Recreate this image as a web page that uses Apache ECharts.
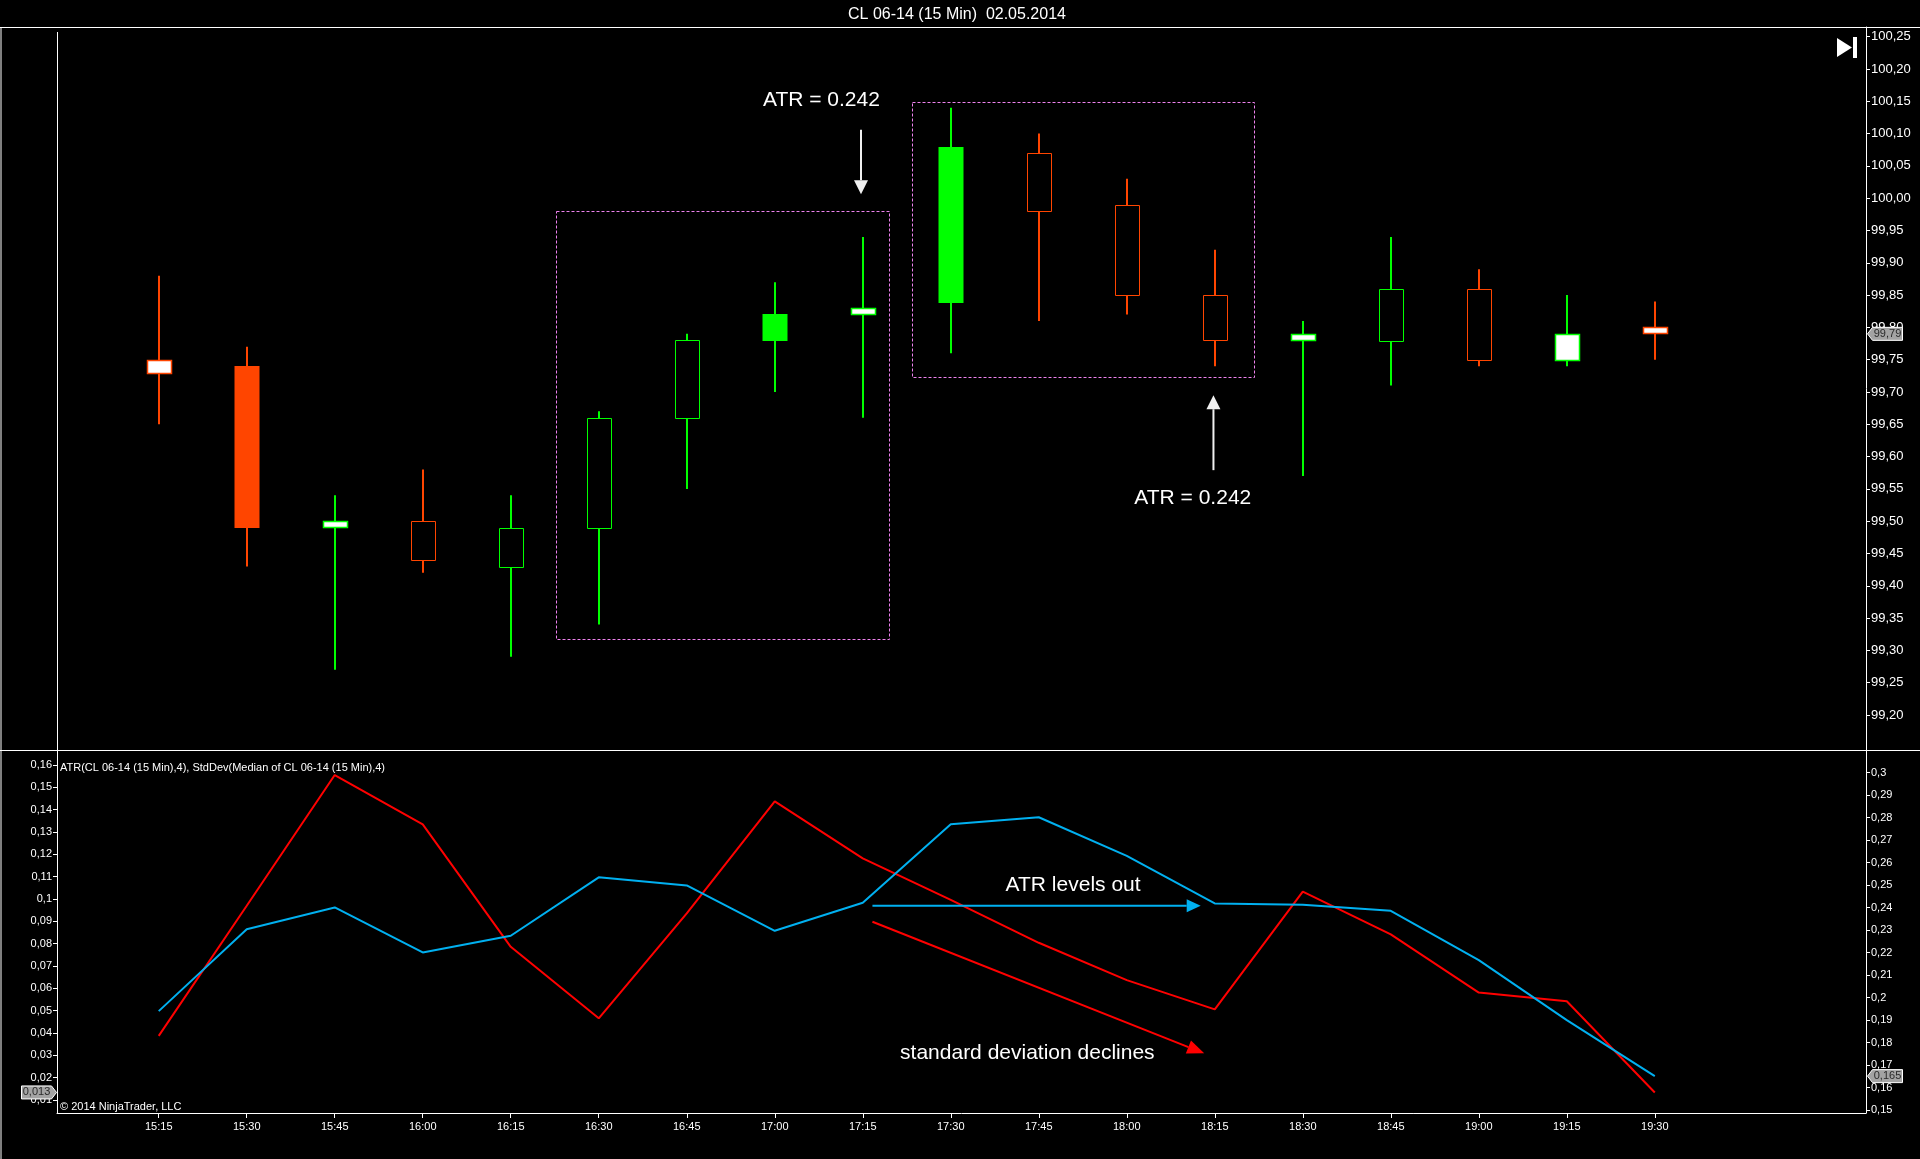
<!DOCTYPE html>
<html>
<head>
<meta charset="utf-8">
<title>CL 06-14 (15 Min) 02.05.2014</title>
<script src="https://cdn.jsdelivr.net/npm/echarts@6/dist/echarts.min.js"></script>
<style>
  html, body { margin: 0; padding: 0; background: #000; }
  #chart { width: 1920px; height: 1159px; }
</style>
</head>
<body>
<div id="chart"></div>
<script>
// 15 min bars, CL 06-14
const times = ['15:15', '15:30', '15:45', '16:00', '16:15', '16:30', '16:45', '17:00', '17:15',
  '17:30', '17:45', '18:00', '18:15', '18:30', '18:45', '19:00', '19:15', '19:30'];
const open  = [99.75, 99.74, 99.49, 99.50, 99.43, 99.49, 99.66, 99.78, 99.82,
  99.84, 100.07, 99.99, 99.85, 99.78, 99.78, 99.86, 99.75, 99.80];
const close = [99.73, 99.49, 99.50, 99.44, 99.49, 99.66, 99.78, 99.82, 99.83,
  100.08, 99.98, 99.85, 99.78, 99.79, 99.86, 99.75, 99.79, 99.79];
const low   = [99.65, 99.43, 99.27, 99.42, 99.29, 99.34, 99.55, 99.70, 99.66,
  99.76, 99.81, 99.82, 99.74, 99.57, 99.71, 99.74, 99.74, 99.75];
const high  = [99.88, 99.77, 99.54, 99.58, 99.54, 99.67, 99.79, 99.87, 99.94,
  100.14, 100.10, 100.03, 99.92, 99.81, 99.94, 99.89, 99.85, 99.84];
// how each body is painted on the chart
const bodyType = ['white', 'solid', 'white', 'hollow', 'hollow', 'hollow', 'hollow', 'solid', 'white',
  'solid', 'hollow', 'hollow', 'hollow', 'white', 'hollow', 'hollow', 'white', 'white'];

// indicator panel
const stdDev = [0.0387, 0.097, 0.1555, 0.1334, 0.0786, 0.0466, 0.0936, 0.1437, 0.1182,
  0.0996, 0.0804, 0.0637, 0.0506, 0.1033, 0.0842, 0.0581, 0.0542, 0.0134];
const atr = [0.194, 0.2304, 0.2401, 0.2201, 0.2275, 0.2535, 0.2499, 0.2297, 0.2422,
  0.2771, 0.2802, 0.263, 0.2419, 0.2413, 0.2386, 0.2167, 0.19, 0.1651];

// axis ticks
const priceTicks = [99.20, 99.25, 99.30, 99.35, 99.40, 99.45, 99.50, 99.55, 99.60, 99.65, 99.70,
  99.75, 99.80, 99.85, 99.90, 99.95, 100.00, 100.05, 100.10, 100.15, 100.20, 100.25];
const stdTicks = [0.01, 0.02, 0.03, 0.04, 0.05, 0.06, 0.07, 0.08, 0.09, 0.10, 0.11, 0.12, 0.13, 0.14, 0.15, 0.16];
const atrTicks = [0.15, 0.16, 0.17, 0.18, 0.19, 0.20, 0.21, 0.22, 0.23, 0.24, 0.25, 0.26, 0.27, 0.28, 0.29, 0.30];
const barIndex = [0, 1, 2, 3, 4, 5, 6, 7, 8, 9, 10, 11, 12, 13, 14, 15, 16, 17];

const FONT = 'Arial, "Liberation Sans", sans-serif';
const GREEN = '#00ff00';
const ORANGE = '#ff4500';
const ATR_BLUE = '#00b0f0';
const STD_RED = '#ff0000';
const BOX = '#ee82ee';

const X_MIN = -1.156, X_MAX = 19.40;

const chart = echarts.init(document.getElementById('chart'));

const comma2 = v => v.toFixed(2).replace('.', ',');
const commaTrim = v => String(parseFloat(v.toFixed(2))).replace('.', ',');

function renderCandle(params, api) {
  const i = api.value(0);
  const o = api.value(1), c = api.value(2);
  const hi = api.coord([i, api.value(4)]);
  const lo = api.coord([i, api.value(3)]);
  const top = api.coord([i, Math.max(o, c)]);
  const bot = api.coord([i, Math.min(o, c)]);
  const color = c >= o ? GREEN : ORANGE;
  const kind = bodyType[params.dataIndex];
  const x = Math.round(top[0]);
  const yTop = Math.round(top[1]) + 0.5;
  const h = Math.max(Math.round(bot[1] - top[1]), 1);
  const body = kind === 'solid'
    ? { x: x - 12.5, y: yTop - 0.5, width: 25, height: h + 1 }
    : { x: x - 12 + 0.5, y: yTop, width: 24, height: h };
  return {
    type: 'group',
    children: [
      { type: 'line', shape: { x1: x, y1: hi[1], x2: x, y2: lo[1] }, style: { stroke: color, lineWidth: 2 } },
      {
        type: 'rect', shape: body,
        style: {
          fill: kind === 'solid' ? color : (kind === 'white' ? '#ffffff' : '#000000'),
          stroke: kind === 'solid' ? null : color,
          lineWidth: kind === 'white' ? 1.5 : 1
        }
      }
    ]
  };
}

const axisText = { color: '#ffffff', fontFamily: FONT };

chart.setOption({
  backgroundColor: '#000000',
  animation: false,
  grid: [
    { left: 57, right: 54, top: 27, height: 723 },
    { left: 57, right: 54, top: 750, height: 363 }
  ],
  xAxis: [
    { type: 'value', gridIndex: 0, min: X_MIN, max: X_MAX, show: false },
    {
      type: 'value', gridIndex: 1, min: X_MIN, max: X_MAX,
      axisLine: { onZero: false, lineStyle: { color: '#ffffff', width: 1 } },
      axisTick: { customValues: barIndex, length: 5, lineStyle: { color: '#ffffff' } },
      axisLabel: { ...axisText, fontSize: 11, margin: 8, customValues: barIndex, formatter: v => times[Math.round(v)] },
      splitLine: { show: false }
    }
  ],
  yAxis: [
    {
      type: 'value', gridIndex: 0, position: 'right', min: 99.1458, max: 100.265,
      axisLine: { show: true, onZero: false, lineStyle: { color: '#ffffff', width: 1 } },
      axisTick: { show: true, customValues: priceTicks, length: 4, lineStyle: { color: '#ffffff' } },
      axisLabel: { ...axisText, fontSize: 13, margin: 5, customValues: priceTicks, formatter: comma2 },
      splitLine: { show: false }
    },
    {
      type: 'value', gridIndex: 1, position: 'left', min: 0.0042, max: 0.1667,
      axisLine: { show: true, onZero: false, lineStyle: { color: '#ffffff', width: 1 } },
      axisTick: { show: true, customValues: stdTicks, length: 4, lineStyle: { color: '#ffffff' } },
      axisLabel: { ...axisText, fontSize: 11, margin: 5, customValues: stdTicks, formatter: commaTrim },
      splitLine: { show: false }
    },
    {
      type: 'value', gridIndex: 1, position: 'right', min: 0.1487, max: 0.3101,
      axisLine: { show: true, onZero: false, lineStyle: { color: '#ffffff', width: 1 } },
      axisTick: { show: true, customValues: atrTicks, length: 4, lineStyle: { color: '#ffffff' } },
      axisLabel: { ...axisText, fontSize: 11, margin: 5, customValues: atrTicks, formatter: commaTrim },
      splitLine: { show: false }
    }
  ],
  series: [
    {
      name: 'CL 06-14',
      type: 'custom',
      xAxisIndex: 0, yAxisIndex: 0,
      clip: false,
      renderItem: renderCandle,
      encode: { x: 0, y: [1, 2, 3, 4] },
      data: times.map((t, i) => [i, open[i], close[i], low[i], high[i]])
    },
    {
      name: 'StdDev',
      type: 'line',
      xAxisIndex: 1, yAxisIndex: 1,
      symbol: 'none',
      lineStyle: { color: STD_RED, width: 2 },
      data: stdDev.map((v, i) => [i, v])
    },
    {
      name: 'ATR',
      type: 'line',
      xAxisIndex: 1, yAxisIndex: 2,
      symbol: 'none',
      lineStyle: { color: ATR_BLUE, width: 2 },
      data: atr.map((v, i) => [i, v])
    }
  ]
});

// ---- annotations and chrome ----
const px = (axes, pt) => chart.convertToPixel(axes, pt);
const PRICE = { xAxisIndex: 0, yAxisIndex: 0 };
const STD = { xAxisIndex: 1, yAxisIndex: 1 };
const ATR = { xAxisIndex: 1, yAxisIndex: 2 };

function arrow(a, b, color, width, headLen, headW) {
  const dx = b[0] - a[0], dy = b[1] - a[1];
  const len = Math.hypot(dx, dy);
  const ux = dx / len, uy = dy / len;
  const base = [b[0] - ux * headLen, b[1] - uy * headLen];
  const nx = -uy, ny = ux;
  return [
    { type: 'line', z: 50, shape: { x1: a[0], y1: a[1], x2: base[0], y2: base[1] }, style: { stroke: color, lineWidth: width } },
    {
      type: 'polygon', z: 50,
      shape: { points: [b, [base[0] + nx * headW / 2, base[1] + ny * headW / 2], [base[0] - nx * headW / 2, base[1] - ny * headW / 2]] },
      style: { fill: color }
    }
  ];
}

function dashedBox(p0, p1) {
  const a = px(PRICE, p0), b = px(PRICE, p1);
  return {
    type: 'rect', z: 40,
    shape: { x: Math.round(a[0]) + 0.5, y: Math.round(a[1]) + 0.5, width: Math.round(b[0] - a[0]), height: Math.round(b[1] - a[1]) },
    style: { fill: null, stroke: BOX, lineWidth: 1, lineDash: [3, 2] }
  };
}

function note(pt, text, size) {
  return {
    type: 'text', z: 60, x: pt[0], y: pt[1],
    style: { text: text, fill: '#ffffff', font: size + 'px ' + FONT, align: 'center', verticalAlign: 'middle' }
  };
}

function tag(tipX, y, text, pointLeft) {
  const w = 30, h = 13, a = 5;
  const s = pointLeft ? 1 : -1;
  const pts = [[tipX, y], [tipX + s * a, y - h / 2], [tipX + s * (a + w), y - h / 2],
    [tipX + s * (a + w), y + h / 2], [tipX + s * a, y + h / 2]];
  return [
    { type: 'polygon', z: 70, shape: { points: pts }, style: { fill: '#a3a3a3', stroke: '#ffffff', lineWidth: 1 } },
    {
      type: 'text', z: 71, x: tipX + s * (a + w / 2), y: y,
      style: { text: text, fill: '#2a2a2a', font: '11px ' + FONT, align: 'center', verticalAlign: 'middle' }
    }
  ];
}

const hline = (x1, x2, y) => ({ type: 'line', z: 30, shape: { x1: x1, y1: y, x2: x2, y2: y }, style: { stroke: '#ffffff', lineWidth: 1 } });
const vline = (x, y1, y2) => ({ type: 'line', z: 30, shape: { x1: x, y1: y1, x2: x, y2: y2 }, style: { stroke: '#ffffff', lineWidth: 1 } });

const last = times.length - 1;
const lastPriceY = px(PRICE, [last, close[last]])[1];
const lastAtrY = px(ATR, [last, atr[last]])[1];
const lastStdY = px(STD, [last, stdDev[last]])[1];

const graphics = [
  // title and frame
  { type: 'text', x: 957, y: 14.5, style: { text: 'CL 06-14 (15 Min)  02.05.2014', fill: '#ffffff', font: '16px ' + FONT, align: 'center', verticalAlign: 'middle' } },
  hline(0, 1920, 27.5),
  hline(0, 1920, 750.5),
  vline(57.5, 32, 750),
  vline(1, 27, 1159),
  // go-to-end icon
  { type: 'polygon', z: 30, shape: { points: [[1837, 38], [1852, 47.5], [1837, 57]] }, style: { fill: '#ffffff' } },
  { type: 'rect', z: 30, shape: { x: 1853, y: 37, width: 4, height: 21 }, style: { fill: '#ffffff' } },
  // indicator captions
  { type: 'text', x: 60, y: 768, style: { text: 'ATR(CL 06-14 (15 Min),4), StdDev(Median of CL 06-14 (15 Min),4)', fill: '#ffffff', font: '11px ' + FONT, verticalAlign: 'middle' } },
  { type: 'text', x: 60, y: 1107, style: { text: '\u00a9 2014 NinjaTrader, LLC', fill: '#ffffff', font: '11px ' + FONT, verticalAlign: 'middle' } },
  // price panel annotations
  dashedBox([4.515, 99.980], [8.302, 99.318]),
  dashedBox([8.557, 100.149], [12.439, 99.723]),
  ...arrow(px(PRICE, [7.98, 100.106]), px(PRICE, [7.98, 100.006]), '#f0f0f0', 2, 14, 14),
  ...arrow(px(PRICE, [11.985, 99.579]), px(PRICE, [11.985, 99.695]), '#f0f0f0', 2, 14, 14),
  note(px(PRICE, [7.53, 100.152]), 'ATR = 0.242', 21),
  note(px(PRICE, [11.75, 99.535]), 'ATR = 0.242', 21),
  // indicator panel annotations
  ...arrow(px(ATR, [8.11, 0.2409]), px(ATR, [11.84, 0.2409]), ATR_BLUE, 2, 14, 13),
  ...arrow(px(STD, [8.11, 0.0898]), px(STD, [11.88, 0.0309]), STD_RED, 2, 17, 14),
  note(px(ATR, [10.39, 0.2501]), 'ATR levels out', 21),
  note(px(STD, [9.87, 0.0310]), 'standard deviation declines', 21),
  // last value tags
  ...tag(1867.5, lastPriceY, comma2(close[last]), true),
  ...tag(1867.5, lastAtrY, atr[last].toFixed(3).replace('.', ','), true),
  ...tag(56.5, lastStdY, stdDev[last].toFixed(3).replace('.', ','), false)
];

chart.setOption({ graphic: graphics });
</script>
</body>
</html>
